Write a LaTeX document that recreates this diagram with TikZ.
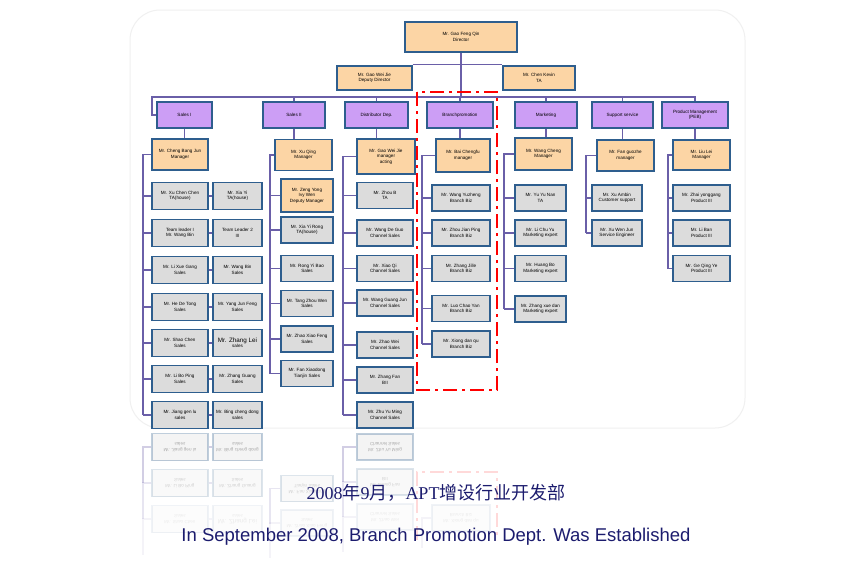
\documentclass[tikz,border=0pt]{standalone}
\usepackage{fontspec}
\setmainfont{Liberation Sans}
\newfontfamily\cjkfont{Noto Sans CJK SC}
\newfontfamily\numfont{Liberation Serif}
\usepackage{tikz}
\definecolor{frameblue}{HTML}{2E5E8E}
\definecolor{staff}{HTML}{DCDCDC}
\definecolor{peach}{HTML}{FCD5A5}
\definecolor{lilac}{HTML}{CC9EF5}
\definecolor{wire}{HTML}{6A5FA8}
\definecolor{navy}{HTML}{1C1C6E}

\begin{document}
\begin{tikzpicture}[
  x=1pt,y=-1pt,
  every node/.style={align=center},
  box/.style={draw=frameblue,line width=1.4pt,inner sep=1pt,font=\fontsize{4.6}{5.4}\selectfont},
  wh/.style 2 args={minimum width=#1,minimum height=#2},
  headbox/.style={box,fill=peach},
  deptbox/.style={box,fill=lilac},
  staffbox/.style={box,fill=staff},
  link/.style={draw=wire,line width=1.1pt},
  promo/.style={draw=red,line width=2.2pt,dash pattern=on 14pt off 5pt on 3pt off 5pt}
]
  \path[fill=white] (0,0) rectangle (862,560);
  % faint slide frame behind the chart
  \draw[gray!12,line width=1pt,rounded corners=30] (130,10) rectangle (745,428);

  % Director, deputy director and TA on top.
  \node[headbox,wh={112}{30}] (director) at (461,37) {Mr. Gao Feng Qin\\Director};
  \node[headbox,wh={75}{24}] (deputy) at (374.5,78) {Mr. Gao Wei Jie\\Deputy Director};
  \node[headbox,wh={72}{24}] (ta) at (539,78) {Mr. Chen Kevin\\TA};
  \draw[link] ([yshift=1pt]deputy.north east) -- ([yshift=1pt]ta.north west);

  % Department row.
  \node[deptbox,wh={55}{26}] (salesI) at (184.5,115) {Sales I};
  \node[deptbox,wh={62}{26}] (salesII) at (294,115) {Sales II};
  \node[deptbox,wh={63}{26}] (distrib) at (376.5,115) {Distributor Dep.};
  \node[deptbox,wh={66}{26}] (branch) at (460,115) {Branchpromotion};
  \node[deptbox,wh={62}{26}] (market) at (546,115) {Marketing};
  \node[deptbox,wh={61}{26}] (support) at (622.5,115) {Support service};
  \node[deptbox,wh={66}{26}] (product) at (695,115) {Product Management\\(PEB)};
  \coordinate (busL) at (152,97);
  \coordinate (busR) at (695,97);
  \draw[link] (director.south) -- (director.south |- busL);
  \draw[link] (salesI.west) -| (busL) -- (busR) -- (product.north);
  \foreach \d in {salesII,distrib,branch,market,support}
    \draw[link] (\d.north) -- (\d.north |- busL);

  % Department managers.
  \node[headbox,wh={56}{31}] (mgrI) at (180,154.5) {Mr. Cheng Bang Jun\\Manager};
  \node[headbox,wh={57}{31}] (mgrII) at (303.5,155) {Mr. Xu Qing\\Manager};
  \node[headbox,wh={58}{35}] (mgrD) at (386,156.5) {Mr. Gao Wei Jie\\manager\\acting};
  \node[headbox,wh={54}{33}] (mgrB) at (463,155.5) {Mr. Bai Chengfu\\manager};
  \node[headbox,wh={57}{32}] (mgrM) at (543.5,154) {Mr. Wang Cheng\\Manager};
  \node[headbox,wh={57}{31}] (mgrS) at (625.5,155.5) {Mr. Fan guozhe\\manager};
  \node[headbox,wh={57}{30}] (mgrP) at (701.5,155) {Mr. Liu Lei\\Manager};
  \foreach \a/\b in {salesI/mgrI,salesII/mgrII,distrib/mgrD,branch/mgrB,market/mgrM,support/mgrS,product/mgrP}
    \draw[link] (\a.south) -- (\a.south |- \b.north);

  % Sales I: two cards per row.
  \coordinate (jI) at (143,415);
  \foreach \i/\yy/\lname/\rname in {1/196/{Mr. Xu Chen Chen\\TA(house)}/{Mr. Xia Yi\\TA(house)},
      2/233/{Team leader I\\Mr. Wang Bin}/{Team Leader 2\\III},
      3/270/{Mr. Li Xue Gang\\Sales}/{Mr. Wang Bin\\Sales},
      4/307/{Mr. He De Tong\\Sales}/{Mr. Yang Jun Feng\\Sales},
      5/343/{Mr. Shao Chen\\Sales}/{\fontsize{6.3}{7.3}\selectfont Mr. Zhang Lei\\sales},
      6/379/{Mr. Li Bo Ping\\Sales}/{Mr. Zhang Guang\\Sales},
      7/415/{Mr. Jiang gen lu\\sales}/{Mr. Bing cheng dong\\sales}}{
    \node[staffbox,wh={56}{27}] (sI\i) at (180,\yy) {\lname};
    \node[staffbox,wh={49}{27}] (tI\i) at (237.5,\yy) {\rname};
    \draw[link] (sI\i.east) -- (tI\i.west);
    \draw[link] (sI\i.west) -- (sI\i.west -| jI);
  }
  \draw[link] (mgrI.west) -| (jI);

  % Sales II.
  \node[headbox,wh={52}{33}] (sII1) at (307,195.5) {Mr. Zeng Yong\\Ivy Wen\\Deputy Manager};
  \coordinate (jII) at (270,373.5);
  \foreach \i/\yy/\who in {2/230/{Mr. Xia Yi Rong\\TA(house)},3/268.5/{Mr. Rong Yi Bao\\Sales},
      4/303.5/{Mr. Tang Zhou Wen\\Sales},5/339/{Mr. Zhao Xiao Feng\\Sales},
      6/373.5/{Mr. Fan Xiaodong\\Tianjin Sales}}
    \node[staffbox,wh={52}{26}] (sII\i) at (307,\yy) {\who};
  \foreach \i in {1,...,6}
    \draw[link] (sII\i.west) -- (sII\i.west -| jII);
  \draw[link] (mgrII.west) -| (jII);

  % Distributor department.
  \coordinate (jD) at (343,415);
  \foreach \i/\yy/\who in {1/195.5/{Mr. Zhou B\\TA},2/233/{Mr. Wang De Guo\\Channel Sales},
      3/268.5/{Mr. Xiao Qi\\Channel Sales},4/303/{Mr. Wang Guang Jun\\Channel Sales},
      5/345/{Mr. Zhao Wei\\Channel Sales},6/380/{Mr. Zhang Fan\\BII},
      7/415/{Mr. Zhu Yu Ming\\Channel Sales}}{
    \node[staffbox,wh={56}{26}] (sD\i) at (385,\yy) {\who};
    \draw[link] (sD\i.west) -- (sD\i.west -| jD);
  }
  \draw[link] (mgrD.west) -| (jD);

  % Branch promotion, the new department, in its red frame.
  \coordinate (jB) at (422,344);
  \foreach \i/\yy/\who in {1/198/{Mr. Wang Yuzheng\\Branch Biz},2/233/{Mr. Zhou Jian Ping\\Branch Biz},
      3/268.5/{Mr. Zhang Jille\\Branch Biz},4/308.5/{Mr. Luo Chao Yan\\Branch Biz},
      5/344/{Mr. Xiong dan qu\\Branch Biz}}{
    \node[staffbox,wh={58}{26}] (sB\i) at (461,\yy) {\who};
    \draw[link] (sB\i.west) -- (sB\i.west -| jB);
  }
  \draw[link] (mgrB.west) -| (jB);
  \draw[promo] (417,92) rectangle (497,390);

  % Marketing.
  \coordinate (jM) at (504,309);
  \foreach \i/\yy/\who in {1/198/{Mr. Yu Yu Nan\\TA},2/233/{Mr. Li Chu Yu\\Marketing expert},
      3/268.5/{Mr. Huang Bo\\Marketing expert},4/309/{Mr. Zhang xue dan\\Marketing expert}}{
    \node[staffbox,wh={51}{26}] (sM\i) at (540.5,\yy) {\who};
    \draw[link] (sM\i.west) -- (sM\i.west -| jM);
  }
  \draw[link] (mgrM.west) -| (jM);

  % Support service.
  \coordinate (jS) at (586,233);
  \foreach \i/\yy/\who in {1/198/{Mr. Xu Ambin\\Customer support},2/233/{Mr. Xu Wen Jun\\Service Engineer}}{
    \node[staffbox,wh={50}{26}] (sS\i) at (617,\yy) {\who};
    \draw[link] (sS\i.west) -- (sS\i.west -| jS);
  }
  \draw[link] (mgrS.west) -| (jS);

  % Product management.
  \coordinate (jP) at (668,268.5);
  \foreach \i/\yy/\who in {1/198/{Mr. Zhai yonggang\\Product III},2/233/{Mr. Li Ban\\Product III},
      3/268.5/{Mr. Ge Qing Ye\\Product III}}{
    \node[staffbox,wh={57}{26}] (sP\i) at (701.5,\yy) {\who};
    \draw[link] (sP\i.west) -- (sP\i.west -| jP);
  }
  \draw[link] (mgrP.west) -| (jP);

  % Mirror image of the lowest rows, fading out downward.
  \begin{scope}[shift={(0,862)},yscale=-1,transform shape]
    \coordinate (gjI) at (143,415);
    \foreach \i/\yy/\op/\lname/\rname in {7/415/.3/{Mr. Jiang gen lu\\sales}/{Mr. Bing cheng dong\\sales},
        6/379/.16/{Mr. Li Bo Ping\\Sales}/{Mr. Zhang Guang\\Sales},
        5/343/.07/{Mr. Shao Chen\\Sales}/{\fontsize{6.3}{7.3}\selectfont Mr. Zhang Lei\\sales}}{
      \node[staffbox,opacity=\op,wh={56}{27}] (gI\i) at (180,\yy) {\lname};
      \node[staffbox,opacity=\op,wh={49}{27}] (hI\i) at (237.5,\yy) {\rname};
      \draw[link,opacity=\op] (gI\i.east) -- (hI\i.west);
      \draw[link,opacity=\op] (gI\i.west) -- (gI\i.west -| gjI) -- +(0,-36);
    }
    \coordinate (gjII) at (270,373.5);
    \foreach \i/\yy/\op/\who in {6/373.5/.16/{Mr. Fan Xiaodong\\Tianjin Sales},
        5/339/.07/{Mr. Zhao Xiao Feng\\Sales}}{
      \node[staffbox,opacity=\op,wh={52}{26}] (gII\i) at (307,\yy) {\who};
      \draw[link,opacity=\op] (gII\i.west) -- (gII\i.west -| gjII) -- +(0,-35);
    }
    \coordinate (gjD) at (343,415);
    \foreach \i/\yy/\op/\who in {7/415/.3/{Mr. Zhu Yu Ming\\Channel Sales},
        6/380/.16/{Mr. Zhang Fan\\BII},5/345/.07/{Mr. Zhao Wei\\Channel Sales}}{
      \node[staffbox,opacity=\op,wh={56}{26}] (gD\i) at (385,\yy) {\who};
      \draw[link,opacity=\op] (gD\i.west) -- (gD\i.west -| gjD) -- +(0,-35);
    }
    \coordinate (gjB) at (422,344);
    \node[staffbox,opacity=.07,wh={58}{26}] (gB5) at (461,344) {Mr. Xiong dan qu\\Branch Biz};
    \draw[link,opacity=.07] (gB5.west) -- (gjB) -- +(0,-30);
    \draw[promo,opacity=.15] (417,322) -- (417,390) -- (497,390) -- (497,322);
  \end{scope}

  % Captions.
  \node[text=navy,font=\fontsize{18}{20}\selectfont] (cntitle) at (436,493)
    {{\numfont 2008}{\cjkfont 年}{\numfont 9}{\cjkfont 月，}{\numfont APT}{\cjkfont 增设行业开发部}};
  \node[text=navy,font=\fontsize{18.5}{20}\selectfont] (entitle) at (436,537)
    {In September 2008, Branch Promotion Dept. Was Established};
\end{tikzpicture}
\end{document}
